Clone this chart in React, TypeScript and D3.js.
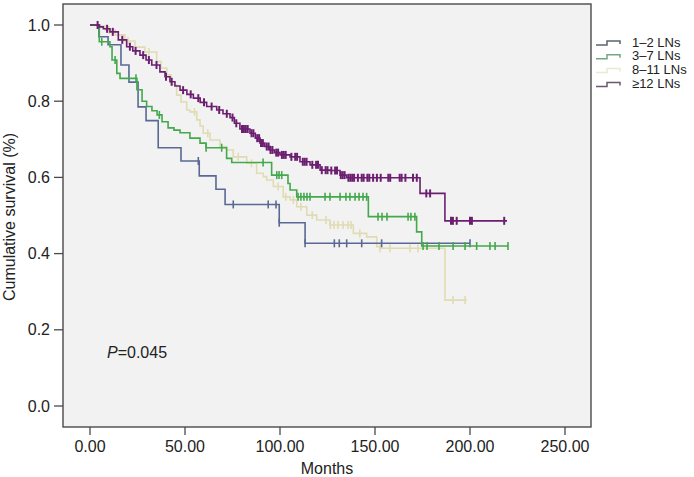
import React from "react";
import * as d3 from "d3";

const xTicks = [0, 50, 100, 150, 200, 250];
const yTicks = [0, 0.2, 0.4, 0.6, 0.8, 1.0];
const groupNames = ["1–2 LNs", "3–7 LNs", "8–11 LNs", "≥12 LNs"];

// 1–2 LNs
const g1Times = [4.7, 9.5, 16.3, 20.5, 25.3, 29.5, 35.9, 47.9, 57.5, 66.3, 71.1, 99.6, 113.2];
const g1Surv = [0.969, 0.948, 0.895, 0.85, 0.785, 0.749, 0.678, 0.643, 0.604, 0.569, 0.529, 0.481, 0.427];
const g1End = 200;
const g1Censor = [57, 75.4, 93.8, 97.9, 99.6, 113.2, 128.6, 131.2, 135.1, 143, 153.5, 200];

// 3–7 LNs
const g2Times = [4.9, 10.5, 11.6, 14.1, 15.8, 24.7, 27.4, 29.8, 32.6, 35.3, 37.9, 41.1, 44.2, 47.4, 52.6, 57.9, 61.1, 71.9, 74.6, 95.6, 104.2, 105.3, 108.8, 146.5, 171.9, 174.6];
const g2Surv = [0.956, 0.943, 0.908, 0.873, 0.86, 0.83, 0.8, 0.786, 0.775, 0.764, 0.746, 0.73, 0.724, 0.717, 0.703, 0.69, 0.678, 0.65, 0.639, 0.606, 0.584, 0.567, 0.549, 0.497, 0.457, 0.42];
const g2End = 220;
const g2Censor = [6.2, 13.2, 24.2, 36.5, 61.1, 69.3, 91.1, 98.3, 99.5, 100.9, 109.5, 111, 112.6, 114.2, 115.8, 123.7, 126.3, 131.6, 134.7, 136.8, 139.5, 141.6, 143.7, 145.6, 151.6, 153.7, 156.3, 167.4, 168.9, 171, 175.3, 177.4, 183.7, 191.1, 197.4, 203.5, 210.5, 213.2, 220];

// 8–11 LNs
const g3Times = [3.7, 7.9, 13.2, 18.4, 23.7, 28.9, 35.1, 37.4, 40.4, 42.6, 45.6, 47.9, 50.9, 52.6, 56.2, 57.9, 59.6, 63.2, 68.4, 71.9, 75.4, 82.5, 87.7, 91.2, 93.0, 96.5, 101.7, 105.3, 108.8, 114.1, 119.3, 126.3, 138.6, 145.6, 150.9, 152.6, 186.8];
const g3Surv = [0.997, 0.987, 0.974, 0.958, 0.942, 0.929, 0.904, 0.887, 0.869, 0.843, 0.816, 0.798, 0.777, 0.772, 0.751, 0.735, 0.716, 0.698, 0.681, 0.672, 0.654, 0.637, 0.611, 0.602, 0.593, 0.576, 0.549, 0.541, 0.523, 0.501, 0.488, 0.475, 0.453, 0.444, 0.418, 0.414, 0.278];
const g3End = 198.3;
const g3Censor = [10, 20, 31, 55, 62, 78, 85, 99, 103, 107, 111, 117, 124.2, 126.5, 128.4, 130.5, 133.2, 135.8, 137.4, 142, 152.6, 157.9, 168.4, 172.6, 191, 197.4];

// ≥12 LNs
const g4Times = [5, 7, 10.5, 14.9, 19.3, 22.5, 26.3, 29.5, 32.5, 36.8, 39.5, 42.1, 44.7, 47.4, 51, 54.4, 58, 61.4, 66.7, 70, 73.7, 76, 78.9, 84.2, 87, 89.5, 92, 94.7, 97, 100, 105.3, 110.5, 115.8, 121.1, 126.3, 131.6, 135.1, 173.7, 186.8];
const g4Surv = [0.995, 0.99, 0.982, 0.961, 0.943, 0.932, 0.921, 0.908, 0.895, 0.877, 0.864, 0.851, 0.84, 0.829, 0.818, 0.808, 0.797, 0.786, 0.777, 0.767, 0.757, 0.742, 0.727, 0.716, 0.703, 0.69, 0.681, 0.672, 0.665, 0.659, 0.654, 0.641, 0.633, 0.619, 0.618, 0.606, 0.599, 0.558, 0.486];
const g4End = 219.5;
const g4Censor = [4, 9, 12, 17, 21, 24, 28, 31, 35, 40, 43, 49, 53, 57, 60, 64, 68, 72, 75, 77, 80, 81, 82, 83, 85, 86, 88, 89, 90, 91, 93, 94, 95, 96, 98, 99, 101, 102, 103, 106, 108, 109, 112, 113, 114, 117, 119, 120, 122, 124, 125, 127, 129, 130, 132, 133, 134, 136, 137, 138, 139, 141, 143, 144, 146, 147, 149, 151, 153, 157, 158, 163, 164, 166, 170, 172, 177, 179, 190, 191, 193, 200, 201, 218];

const lineColors = ["#5a6994", "#44a84c", "#e0dcb2", "#6c1f70"];
const legendColors = ["#5a6272", "#74a584", "#ebe9d4", "#6d5670"];

const series = [
  { times: g1Times, surv: g1Surv, end: g1End, censor: g1Censor },
  { times: g2Times, surv: g2Surv, end: g2End, censor: g2Censor },
  { times: g3Times, surv: g3Surv, end: g3End, censor: g3Censor },
  { times: g4Times, surv: g4Surv, end: g4End, censor: g4Censor },
];
const drawOrder = [2, 0, 1, 3];

const W = 694;
const H = 477;
const frame = { left: 63, right: 591, top: 4, bottom: 427 };
const FONT = "Arial, 'Liberation Sans', sans-serif";

export default function App() {
  const x = d3.scaleLinear().domain([0, 250]).range([90, 565]);
  const y = d3.scaleLinear().domain([0, 1]).range([406, 25]);

  const stepLine = d3
    .line<[number, number]>()
    .x((d) => x(d[0]))
    .y((d) => y(d[1]))
    .curve(d3.curveStepAfter);

  const survAt = (s: typeof series[number], t: number) => {
    let v = 1;
    for (let i = 0; i < s.times.length; i++) {
      if (s.times[i] <= t + 1e-9) v = s.surv[i];
    }
    return v;
  };

  return (
    <svg
      width={W}
      height={H}
      style={{ position: "absolute", left: 0, top: 0, display: "block", background: "#fff" }}
    >
      <rect
        x={frame.left}
        y={frame.top}
        width={frame.right - frame.left}
        height={frame.bottom - frame.top}
        fill="#f2f2f2"
        stroke="#4a4a4a"
        strokeWidth={1.4}
      />
      {yTicks.map((v) => (
        <g key={"y" + v}>
          <line x1={54} x2={frame.left} y1={y(v)} y2={y(v)} stroke="#4a4a4a" strokeWidth={1.3} />
          <text x={50} y={y(v) + 5.5} textAnchor="end" fontSize={16} fontFamily={FONT} fill="#222">
            {v.toFixed(1)}
          </text>
        </g>
      ))}
      {xTicks.map((v) => (
        <g key={"x" + v}>
          <line x1={x(v)} x2={x(v)} y1={frame.bottom} y2={frame.bottom + 8} stroke="#4a4a4a" strokeWidth={1.3} />
          <text x={x(v)} y={452} textAnchor="middle" fontSize={16} fontFamily={FONT} fill="#222">
            {v.toFixed(2)}
          </text>
        </g>
      ))}
      <text x={327} y={474} textAnchor="middle" fontSize={16} fontFamily={FONT} fill="#222">
        Months
      </text>
      <text
        transform={`translate(15, 217) rotate(-90)`}
        textAnchor="middle"
        fontSize={16}
        fontFamily={FONT}
        fill="#222"
      >
        Cumulative survival (%)
      </text>
      <text x={107} y={358} fontSize={16} fontFamily={FONT} fill="#222">
        <tspan fontStyle="italic">P</tspan>=0.045
      </text>

      {drawOrder.map((gi) => {
        const s = series[gi];
        const pts: [number, number][] = [[0, 1]];
        s.times.forEach((t, i) => pts.push([t, s.surv[i]]));
        pts.push([s.end, s.surv[s.surv.length - 1]]);
        return (
          <g key={"s" + gi}>
            <path d={stepLine(pts) || ""} fill="none" stroke={lineColors[gi]} strokeWidth={1.6} />
            {s.censor.map((t, k) => {
              const cy = y(survAt(s, t));
              return (
                <line
                  key={k}
                  x1={x(t)}
                  x2={x(t)}
                  y1={cy - 4}
                  y2={cy + 4}
                  stroke={lineColors[gi]}
                  strokeWidth={gi === 3 ? 2 : 1.6}
                />
              );
            })}
          </g>
        );
      })}

      {groupNames.map((name, i) => {
        const ly = 42 + i * 13.8;
        return (
          <g key={"l" + i}>
            <path
              d={`M596,${ly + 3} H607 V${ly - 1} H620 V${ly + 2}`}
              fill="none"
              stroke={legendColors[i]}
              strokeWidth={1.5}
            />
            <text x={632} y={ly + 4.5} fontSize={13} fontFamily={FONT} fill="#222">
              {name}
            </text>
          </g>
        );
      })}
    </svg>
  );
}
